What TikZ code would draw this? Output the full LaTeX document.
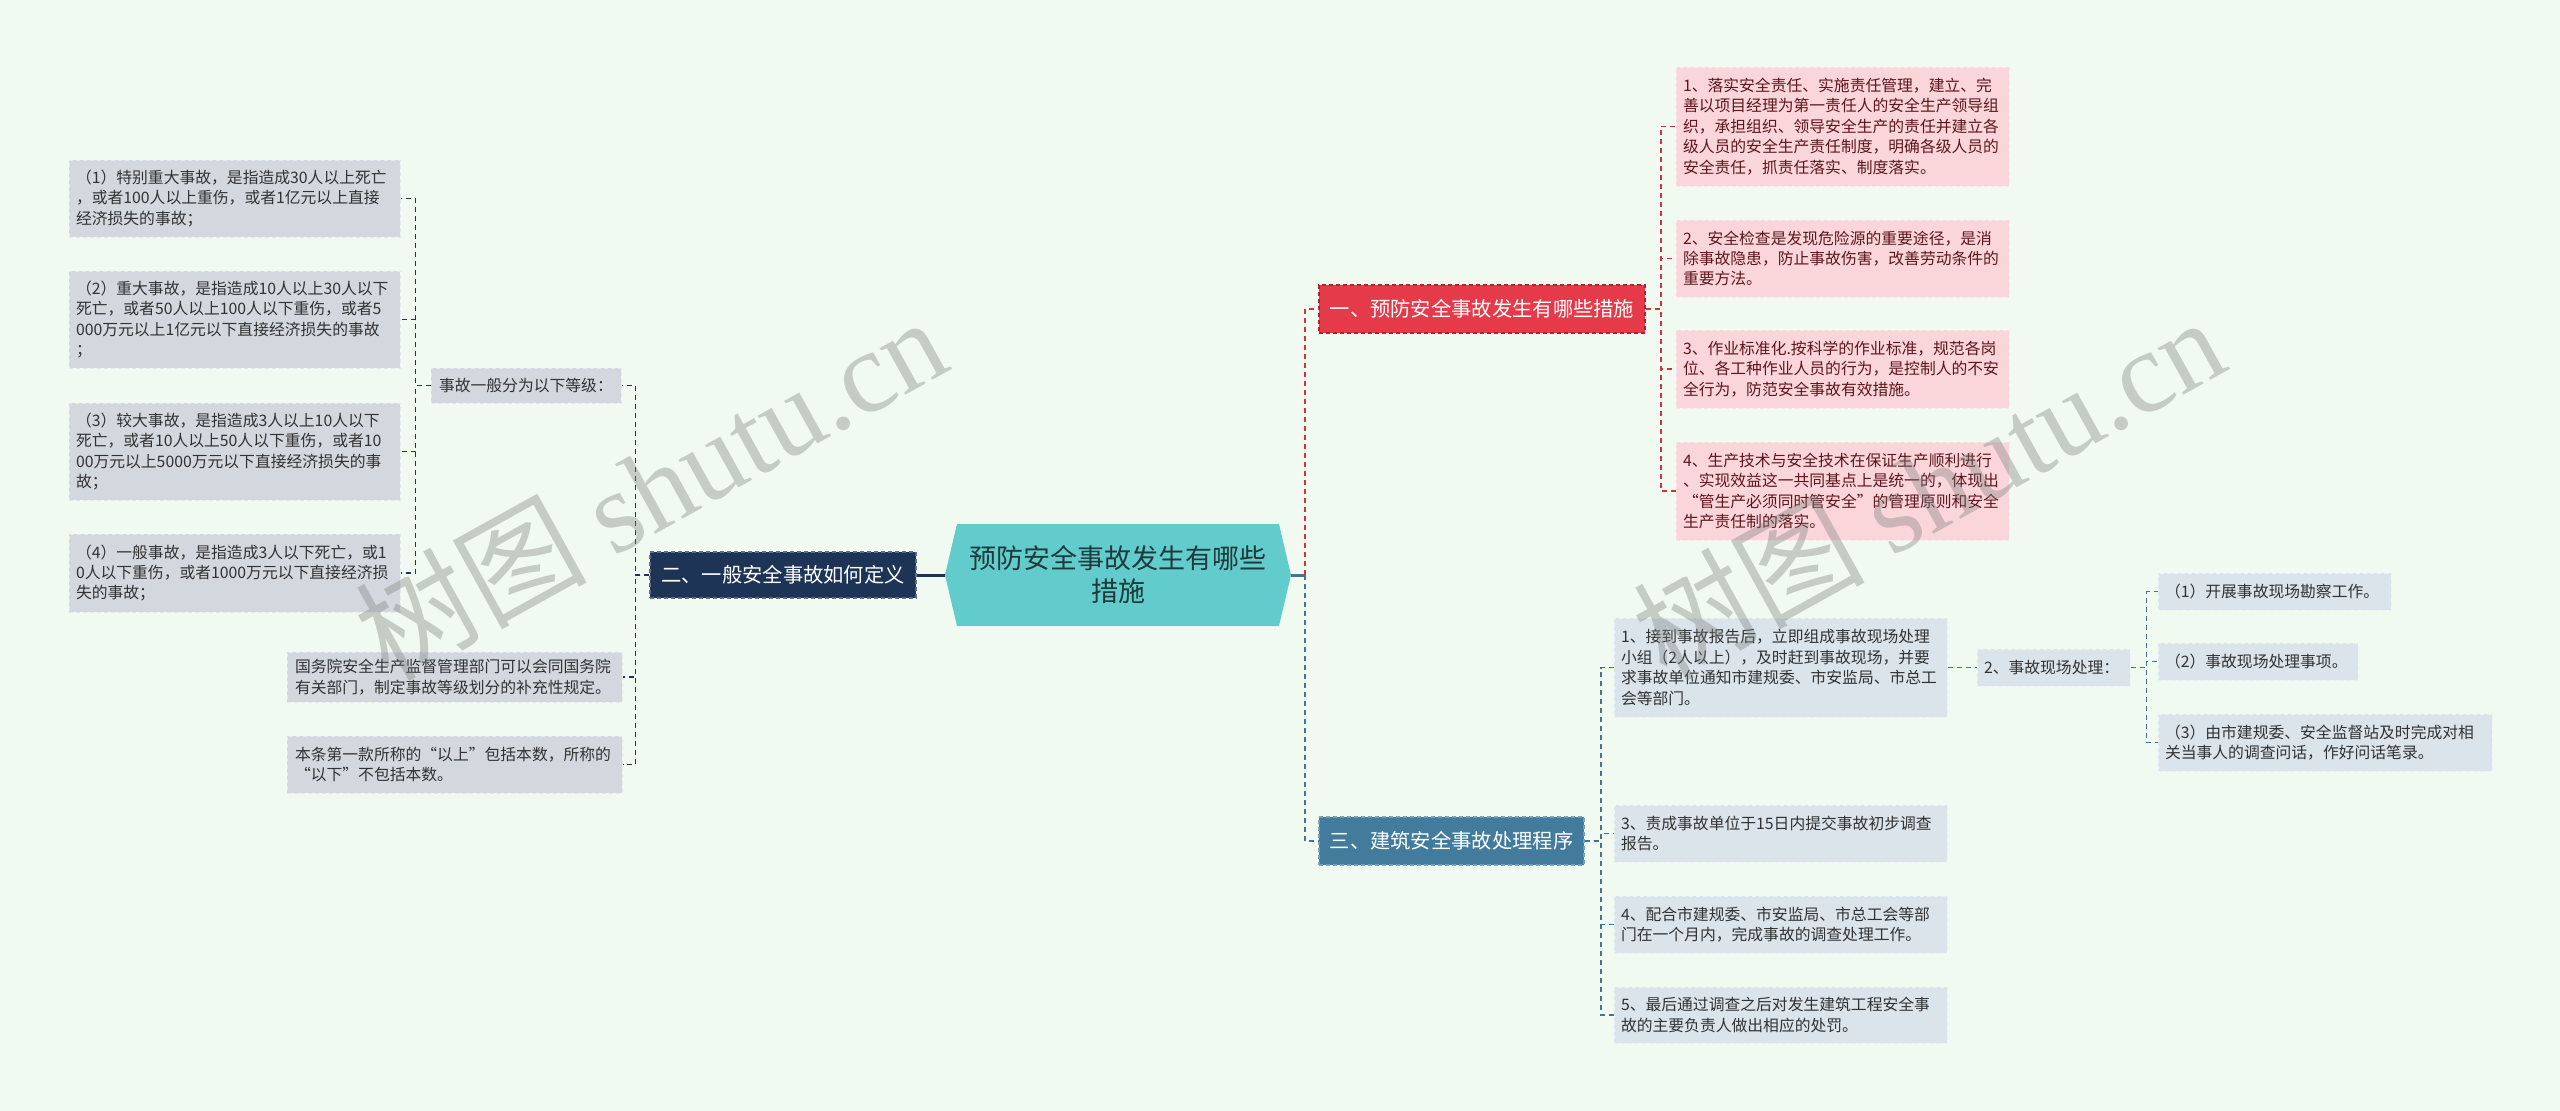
\documentclass[tikz,border=0pt]{standalone}
\usepackage{fontspec}
\setmainfont{Noto Sans CJK SC}
\newfontfamily\wmlatin{Liberation Serif}
\usetikzlibrary{calc}
\setlength{\parindent}{0pt}
\definecolor{bgc}{RGB}{241,250,240}
\definecolor{grayf}{RGB}{211,216,222}
\definecolor{grayl}{RGB}{229,233,237}
\definecolor{bluef}{RGB}{219,228,235}
\definecolor{bluel}{RGB}{236,241,245}
\definecolor{pinkf}{RGB}{250,214,219}
\definecolor{pinkl}{RGB}{253,230,234}
\definecolor{pinkt}{RGB}{92,22,28}
\definecolor{txtd}{RGB}{50,50,50}
\definecolor{redf}{RGB}{228,58,74}
\definecolor{redl}{RGB}{185,30,45}
\definecolor{navyf}{RGB}{30,52,86}
\definecolor{navyl}{RGB}{95,110,135}
\definecolor{steelf}{RGB}{66,123,155}
\definecolor{steell}{RGB}{120,160,185}
\definecolor{tealf}{RGB}{98,203,203}
\definecolor{tealt}{RGB}{30,58,60}
\definecolor{redc}{RGB}{210,50,62}
\definecolor{bluec}{RGB}{70,115,145}
\definecolor{navyc}{RGB}{32,52,84}
\definecolor{wmc}{RGB}{120,125,120}
\tikzset{
  base/.style={inner sep=0pt, align=left, font=\fontsize{15.8}{20.4}\selectfont, line width=1pt, dash pattern=on 4pt off 3pt},
  graybox/.style={base, fill=grayf, draw=grayl, text=txtd},
  pinkbox/.style={base, fill=pinkf, draw=pinkl, text=pinkt},
  bluebox/.style={base, fill=bluef, draw=bluel, text=txtd},
  topic/.style={inner sep=0pt, align=center, font=\fontsize{20.3}{24}\selectfont, text=white, line width=1.2pt, dash pattern=on 4pt off 3pt},
  navylink/.style={draw=navyc, line width=1.8pt, dash pattern=on 5pt off 4pt},
  redlink/.style={draw=redc, line width=1.8pt, dash pattern=on 5pt off 4pt},
  bluelink/.style={draw=bluec, line width=1.8pt, dash pattern=on 5pt off 4pt},
  watermark/.style={rotate=29, text=wmc, opacity=0.36, inner sep=0pt, font=\fontsize{116}{116}\selectfont}
}
\begin{document}
\begin{tikzpicture}[x=1pt,y=-1pt]
\fill[bgc] (0,0) rectangle (2560,1111);
\useasboundingbox (0,0) rectangle (2560,1111);

% root hexagon
\fill[tealf] (957,524) -- (1279,524) -- (1291,575) -- (1279,626) -- (957,626) -- (945,575) -- cycle;
\node[inner sep=0pt, minimum width=346pt, minimum height=102pt, align=center, text=tealt, font=\fontsize{27}{33}\selectfont] (root) at (1118,575) {预防安全事故发生有哪些\\措施};

% main topics
\node[topic, fill=navyf, draw=navyl, minimum width=266pt, minimum height=46pt] (navy) at (783,575) {二、一般安全事故如何定义};
\node[topic, fill=redf, draw=redl, minimum width=326pt, minimum height=48pt] (red) at (1482,309) {一、预防安全事故发生有哪些措施};
\node[topic, fill=steelf, draw=steell, minimum width=265pt, minimum height=48pt] (blue) at (1451.5,841) {三、建筑安全事故处理程序};

% left side
\node[graybox, minimum width=190pt, minimum height=35pt, text width=174pt] (grade) at (526,385.5) {事故一般分为以下等级：};
\node[graybox, minimum width=331pt, minimum height=77pt, text width=317pt] (g1) at (234.5,198.5) {（1）特别重大事故，是指造成30人以上死亡\\，或者100人以上重伤，或者1亿元以上直接\\经济损失的事故；};
\node[graybox, minimum width=331pt, minimum height=97pt, text width=317pt] (g2) at (234.5,319.5) {（2）重大事故，是指造成10人以上30人以下\\死亡，或者50人以上100人以下重伤，或者5\\000万元以上1亿元以下直接经济损失的事故\\；};
\node[graybox, minimum width=331pt, minimum height=97pt, text width=317pt] (g3) at (234.5,451.5) {（3）较大事故，是指造成3人以上10人以下\\死亡，或者10人以上50人以下重伤，或者10\\00万元以上5000万元以下直接经济损失的事\\故；};
\node[graybox, minimum width=331pt, minimum height=78pt, text width=317pt] (g4) at (234.5,573) {（4）一般事故，是指造成3人以下死亡，或1\\0人以下重伤，或者1000万元以下直接经济损\\失的事故；};
\node[graybox, minimum width=335pt, minimum height=50pt, text width=319pt] (gov) at (454.5,677) {国务院安全生产监督管理部门可以会同国务院\\有关部门，制定事故等级划分的补充性规定。};
\node[graybox, minimum width=335pt, minimum height=57pt, text width=319pt] (ben) at (454.5,764.5) {本条第一款所称的“以上”包括本数，所称的\\“以下”不包括本数。};

% red side
\node[pinkbox, minimum width=333pt, minimum height=119pt, text width=319pt] (r1) at (1842.5,126.5) {1、落实安全责任、实施责任管理，建立、完\\善以项目经理为第一责任人的安全生产领导组\\织，承担组织、领导安全生产的责任并建立各\\级人员的安全生产责任制度，明确各级人员的\\安全责任，抓责任落实、制度落实。};
\node[pinkbox, minimum width=333pt, minimum height=77pt, text width=319pt] (r2) at (1842.5,258.5) {2、安全检查是发现危险源的重要途径，是消\\除事故隐患，防止事故伤害，改善劳动条件的\\重要方法。};
\node[pinkbox, minimum width=333pt, minimum height=78pt, text width=319pt] (r3) at (1842.5,369) {3、作业标准化.按科学的作业标准，规范各岗\\位、各工种作业人员的行为，是控制人的不安\\全行为，防范安全事故有效措施。};
\node[pinkbox, minimum width=333pt, minimum height=98pt, text width=319pt] (r4) at (1842.5,491) {4、生产技术与安全技术在保证生产顺利进行\\、实现效益这一共同基点上是统一的，体现出\\“管生产必须同时管安全”的管理原则和安全\\生产责任制的落实。};

% blue side
\node[bluebox, minimum width=333pt, minimum height=99pt, text width=319pt] (b1) at (1780.5,667.5) {1、接到事故报告后，立即组成事故现场处理\\小组（2人以上），及时赶到事故现场，并要\\求事故单位通知市建规委、市安监局、市总工\\会等部门。};
\node[bluebox, minimum width=153pt, minimum height=37pt, text width=139pt] (b2) at (2053.5,667.5) {2、事故现场处理：};
\node[bluebox, minimum width=233pt, minimum height=37pt, text width=219pt] (c1) at (2274.5,591.5) {（1）开展事故现场勘察工作。};
\node[bluebox, minimum width=200pt, minimum height=37pt, text width=186pt] (c2) at (2258,661.5) {（2）事故现场处理事项。};
\node[bluebox, minimum width=334pt, minimum height=57pt, text width=320pt] (c3) at (2325,742.5) {（3）由市建规委、安全监督站及时完成对相\\关当事人的调查问话，作好问话笔录。};
\node[bluebox, minimum width=333pt, minimum height=57pt, text width=319pt] (b3) at (1780.5,833.5) {3、责成事故单位于15日内提交事故初步调查\\报告。};
\node[bluebox, minimum width=333pt, minimum height=57pt, text width=319pt] (b4) at (1780.5,924.5) {4、配合市建规委、市安监局、市总工会等部\\门在一个月内，完成事故的调查处理工作。};
\node[bluebox, minimum width=333pt, minimum height=56pt, text width=319pt] (b5) at (1780.5,1015) {5、最后通过调查之后对发生建筑工程安全事\\故的主要负责人做出相应的处罚。};

% connectors: root
\coordinate (rj) at ([xshift=14pt]root.east);
\draw[draw=navyc, line width=3pt] (root.west) -- (navy.east);
\draw[draw=bluec, line width=3pt] (root.east) -- (rj);
\draw[redlink] (rj) |- (red.west);
\draw[bluelink] (rj) |- (blue.west);

% connectors: left
\coordinate (nj) at ([xshift=-14pt]navy.west);
\foreach \t in {grade,gov,ben} { \draw[navylink] (navy.west) -- (nj) |- (\t.east); }
\coordinate (gj) at ([xshift=-15pt]grade.west);
\foreach \t in {g1,g2,g3,g4} { \draw[navylink] (grade.west) -- (gj) |- (\t.east); }

% connectors: red
\coordinate (redj) at ([xshift=15pt]red.east);
\foreach \t in {r1,r2,r3,r4} { \draw[redlink] (red.east) -- (redj) |- (\t.west); }

% connectors: blue
\coordinate (bj) at ([xshift=16pt]blue.east);
\foreach \t in {b1,b3,b4,b5} { \draw[bluelink] (blue.east) -- (bj) |- (\t.west); }
\draw[bluelink] (b1.east) -- (b2.west);
\coordinate (cj) at ([xshift=16pt]b2.east);
\foreach \t in {c1,c2,c3} { \draw[bluelink] (b2.east) -- (cj) |- (\t.west); }

% watermarks
\node[watermark] (wm1) at (650,487) {树图 {\wmlatin shutu.cn}};
\node[watermark] (wm2) at (1928,487) {树图 {\wmlatin shutu.cn}};
\end{tikzpicture}
\end{document}
